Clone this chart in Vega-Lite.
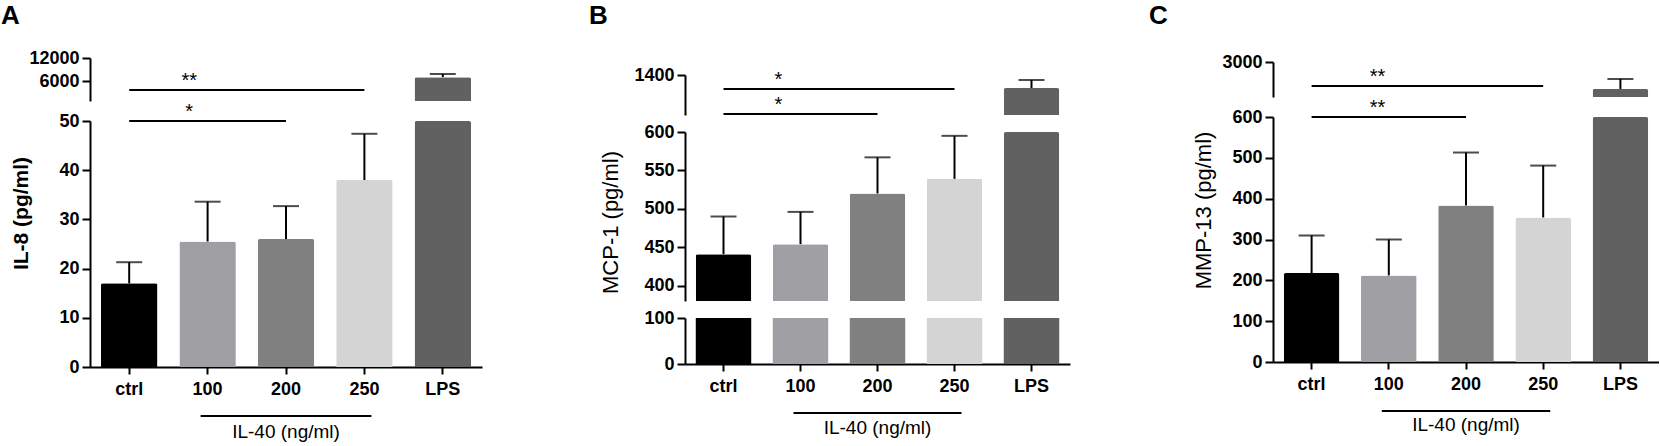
{
  "$schema": "https://vega.github.io/schema/vega-lite/v6.json",
  "padding": {"left": 1, "top": 3, "right": 0, "bottom": 0},
  "config": {
    "font": "Liberation Sans",
    "view": {"stroke": null},
    "title": {"anchor": "start", "frame": "group", "fontSize": 26, "fontWeight": "bold", "color": "#000", "font": "Liberation Sans", "offset": 8},
    "axis": {
      "grid": false,
      "domainColor": "#000",
      "domainWidth": 2,
      "tickColor": "#000",
      "tickWidth": 2,
      "tickSize": 8,
      "labelColor": "#000",
      "labelFont": "Liberation Sans",
      "labelFontSize": 18,
      "labelFontWeight": "bold",
      "labelPadding": 3,
      "labelOverlap": false,
      "labelFlush": false,
      "titleColor": "#000",
      "titleFont": "Liberation Sans"
    }
  },
  "datasets": {
    "il8": [
      {"group": "ctrl", "mean": 17.0, "upper": 21.3},
      {"group": "100", "mean": 25.5, "upper": 33.6},
      {"group": "200", "mean": 26.0, "upper": 32.7},
      {"group": "250", "mean": 38.0, "upper": 47.4},
      {"group": "LPS", "mean": 7100, "upper": 7900}
    ],
    "mcp1": [
      {"group": "ctrl", "mean": 441, "upper": 490},
      {"group": "100", "mean": 454, "upper": 496},
      {"group": "200", "mean": 520, "upper": 567},
      {"group": "250", "mean": 539, "upper": 595},
      {"group": "LPS", "mean": 1205, "upper": 1325}
    ],
    "mmp13": [
      {"group": "ctrl", "mean": 218, "upper": 310},
      {"group": "100", "mean": 212, "upper": 300},
      {"group": "200", "mean": 383, "upper": 513},
      {"group": "250", "mean": 354, "upper": 481},
      {"group": "LPS", "mean": 1460, "upper": 2030}
    ],
    "sigA_top": [{"from": "ctrl", "to": "250", "y": 3800, "label": "**"}],
    "sigA_bot": [{"from": "ctrl", "to": "200", "y": 50, "label": "*"}],
    "sigB_top": [
      {"from": "ctrl", "to": "250", "y": 1190, "label": "*"},
      {"from": "ctrl", "to": "200", "y": 815, "label": "*"}
    ],
    "sigC_top": [{"from": "ctrl", "to": "250", "y": 1630, "label": "**"}],
    "sigC_bot": [{"from": "ctrl", "to": "200", "y": 600, "label": "**"}],
    "bracket": [{"from": "100", "to": "250", "mid": "200", "label": "IL-40 (ng/ml)"}]
  },
  "bounds": "flush",
  "spacing": 595,
  "hconcat": [
    {
      "bounds": "flush",
      "spacing": 20,
      "vconcat": [
        {
          "width": 392, "height": 1,
          "title": {"text": "A", "dx": -89},
          "data": {"values": []},
          "mark": "point"
        },
        {
          "width": 392, "height": 43,
          "layer": [
            {
              "data": {"name": "il8"},
              "mark": {"type": "bar", "cornerRadiusTopLeft": 2, "cornerRadiusTopRight": 2},
              "encoding": {
                "x": {"field": "group", "type": "nominal", "title": null, "axis": null, "scale": {"domain": ["ctrl", "100", "200", "250", "LPS"], "paddingInner": 0.28, "paddingOuter": 0.14}},
                "y": {"field": "mean", "type": "quantitative", "title": null, "scale": {"domain": [1000, 12000], "clamp": true}, "axis": {"values": [6000, 12000], "format": "d", "labelOverlap": false}},
                "color": {"field": "group", "type": "nominal", "legend": null, "scale": {"domain": ["ctrl", "100", "200", "250", "LPS"], "range": ["#000000", "#9f9fa4", "#808080", "#d4d4d4", "#616161"]}}
              }
            },
            {
              "data": {"name": "il8"},
              "transform": [{"filter": {"field": "upper", "range": [1000, 12000]}}],
              "mark": {"type": "rule", "strokeWidth": 2, "color": "#000"},
              "encoding": {
                "x": {"field": "group", "type": "nominal", "title": null, "axis": null},
                "y": {"field": "mean", "type": "quantitative", "title": null},
                "y2": {"field": "upper"}
              }
            },
            {
              "data": {"name": "il8"},
              "transform": [{"filter": {"field": "upper", "range": [1000, 12000]}}],
              "mark": {"type": "tick", "thickness": 2, "size": 26, "color": "#000"},
              "encoding": {
                "x": {"field": "group", "type": "nominal", "title": null, "axis": null},
                "y": {"field": "upper", "type": "quantitative", "title": null}
              }
            },
            {
              "data": {"name": "sigA_top"},
              "mark": {"type": "rule", "strokeWidth": 2, "color": "#000"},
              "encoding": {
                "x": {"field": "from", "type": "nominal", "title": null, "axis": null},
                "x2": {"field": "to"},
                "y": {"field": "y", "type": "quantitative", "title": null}
              }
            },
            {
              "data": {"name": "sigA_top"},
              "mark": {"type": "text", "fontSize": 20, "dx": 60, "dy": -3, "baseline": "alphabetic", "align": "center", "color": "#000"},
              "encoding": {
                "x": {"field": "from", "type": "nominal", "title": null, "axis": null},
                "y": {"field": "y", "type": "quantitative", "title": null},
                "text": {"field": "label"}
              }
            }
          ]
        },
        {
          "width": 392, "height": 246,
          "layer": [
            {
              "data": {"name": "il8"},
              "mark": {"type": "bar", "cornerRadiusTopLeft": 2, "cornerRadiusTopRight": 2},
              "encoding": {
                "x": {"field": "group", "type": "nominal", "title": null, "scale": {"domain": ["ctrl", "100", "200", "250", "LPS"], "paddingInner": 0.28, "paddingOuter": 0.14}, "axis": {"labelAngle": 0, "bandPosition": 0.5, "tickSize": 7, "labelPadding": 6}},
                "y": {"field": "mean", "type": "quantitative", "title": "IL-8 (pg/ml)", "scale": {"domain": [0, 50], "clamp": true}, "axis": {"values": [0, 10, 20, 30, 40, 50], "labelOverlap": false, "titleX": -63, "titleY": 92, "titleAngle": -90, "titleAlign": "center", "titleBaseline": "alphabetic", "titleFontSize": 21, "titleFontWeight": "bold"}},
                "color": {"field": "group", "type": "nominal", "legend": null, "scale": {"domain": ["ctrl", "100", "200", "250", "LPS"], "range": ["#000000", "#9f9fa4", "#808080", "#d4d4d4", "#616161"]}}
              }
            },
            {
              "data": {"name": "il8"},
              "transform": [{"filter": {"field": "upper", "range": [0, 50]}}],
              "mark": {"type": "rule", "strokeWidth": 2, "color": "#000"},
              "encoding": {
                "x": {"field": "group", "type": "nominal", "title": null},
                "y": {"field": "mean", "type": "quantitative", "title": "IL-8 (pg/ml)"},
                "y2": {"field": "upper"}
              }
            },
            {
              "data": {"name": "il8"},
              "transform": [{"filter": {"field": "upper", "range": [0, 50]}}],
              "mark": {"type": "tick", "thickness": 2, "size": 26, "color": "#000"},
              "encoding": {
                "x": {"field": "group", "type": "nominal", "title": null},
                "y": {"field": "upper", "type": "quantitative", "title": "IL-8 (pg/ml)"}
              }
            },
            {
              "data": {"name": "sigA_bot"},
              "mark": {"type": "rule", "strokeWidth": 2, "color": "#000"},
              "encoding": {
                "x": {"field": "from", "type": "nominal", "title": null},
                "x2": {"field": "to"},
                "y": {"field": "y", "type": "quantitative", "title": "IL-8 (pg/ml)"}
              }
            },
            {
              "data": {"name": "sigA_bot"},
              "mark": {"type": "text", "fontSize": 20, "dx": 60, "dy": -3, "baseline": "alphabetic", "align": "center", "color": "#000"},
              "encoding": {
                "x": {"field": "from", "type": "nominal", "title": null},
                "y": {"field": "y", "type": "quantitative", "title": "IL-8 (pg/ml)"},
                "text": {"field": "label"}
              }
            },
            {
              "data": {"name": "bracket"},
              "mark": {"type": "rule", "strokeWidth": 2, "color": "#000", "yOffset": 49, "xOffset": -7, "x2Offset": 7},
              "encoding": {
                "x": {"field": "from", "type": "nominal", "title": null},
                "x2": {"field": "to"},
                "y": {"datum": 0, "type": "quantitative"}
              }
            },
            {
              "data": {"name": "bracket"},
              "mark": {"type": "text", "fontSize": 19, "yOffset": 71, "baseline": "alphabetic", "align": "center", "color": "#000"},
              "encoding": {
                "x": {"field": "mid", "type": "nominal", "title": null},
                "y": {"datum": 0, "type": "quantitative"},
                "text": {"field": "label"}
              }
            }
          ]
        }
      ]
    },
    {
      "bounds": "flush",
      "spacing": 588,
      "hconcat": [
        {
          "bounds": "flush",
          "spacing": 17,
          "vconcat": [
            {
              "width": 385, "height": 21,
              "title": {"text": "B", "dx": -96},
              "data": {"values": []},
              "mark": "point"
            },
            {
              "width": 385, "height": 40,
              "layer": [
                {
                  "data": {"name": "mcp1"},
                  "mark": {"type": "bar", "cornerRadiusTopLeft": 2, "cornerRadiusTopRight": 2},
                  "encoding": {
                    "x": {"field": "group", "type": "nominal", "title": null, "axis": null, "scale": {"domain": ["ctrl", "100", "200", "250", "LPS"], "paddingInner": 0.28, "paddingOuter": 0.14}},
                    "y": {"field": "mean", "type": "quantitative", "title": null, "scale": {"domain": [800, 1400], "clamp": true}, "axis": {"values": [1400], "format": "d", "labelOverlap": false}},
                    "color": {"field": "group", "type": "nominal", "legend": null, "scale": {"domain": ["ctrl", "100", "200", "250", "LPS"], "range": ["#000000", "#9f9fa4", "#808080", "#d4d4d4", "#616161"]}}
                  }
                },
                {
                  "data": {"name": "mcp1"},
                  "transform": [{"filter": {"field": "upper", "range": [800, 1400]}}],
                  "mark": {"type": "rule", "strokeWidth": 2, "color": "#000"},
                  "encoding": {
                    "x": {"field": "group", "type": "nominal", "title": null, "axis": null},
                    "y": {"field": "mean", "type": "quantitative", "title": null},
                    "y2": {"field": "upper"}
                  }
                },
                {
                  "data": {"name": "mcp1"},
                  "transform": [{"filter": {"field": "upper", "range": [800, 1400]}}],
                  "mark": {"type": "tick", "thickness": 2, "size": 26, "color": "#000"},
                  "encoding": {
                    "x": {"field": "group", "type": "nominal", "title": null, "axis": null},
                    "y": {"field": "upper", "type": "quantitative", "title": null}
                  }
                },
                {
                  "data": {"name": "sigB_top"},
                  "mark": {"type": "rule", "strokeWidth": 2, "color": "#000"},
                  "encoding": {
                    "x": {"field": "from", "type": "nominal", "title": null, "axis": null},
                    "x2": {"field": "to"},
                    "y": {"field": "y", "type": "quantitative", "title": null}
                  }
                },
                {
                  "data": {"name": "sigB_top"},
                  "mark": {"type": "text", "fontSize": 20, "dx": 55, "dy": -3, "baseline": "alphabetic", "align": "center", "color": "#000"},
                  "encoding": {
                    "x": {"field": "from", "type": "nominal", "title": null, "axis": null},
                    "y": {"field": "y", "type": "quantitative", "title": null},
                    "text": {"field": "label"}
                  }
                }
              ]
            },
            {
              "width": 385, "height": 169,
              "layer": [
                {
                  "data": {"name": "mcp1"},
                  "mark": {"type": "bar", "cornerRadiusTopLeft": 2, "cornerRadiusTopRight": 2},
                  "encoding": {
                    "x": {"field": "group", "type": "nominal", "title": null, "axis": null, "scale": {"domain": ["ctrl", "100", "200", "250", "LPS"], "paddingInner": 0.28, "paddingOuter": 0.14}},
                    "y": {"field": "mean", "type": "quantitative", "title": "MCP-1 (pg/ml)", "scale": {"domain": [380, 600], "clamp": true}, "axis": {"values": [400, 450, 500, 550, 600], "labelOverlap": false, "titleX": -68, "titleY": 90, "titleAngle": -90, "titleAlign": "center", "titleBaseline": "alphabetic", "titleFontSize": 22, "titleFontWeight": "normal"}},
                    "color": {"field": "group", "type": "nominal", "legend": null, "scale": {"domain": ["ctrl", "100", "200", "250", "LPS"], "range": ["#000000", "#9f9fa4", "#808080", "#d4d4d4", "#616161"]}}
                  }
                },
                {
                  "data": {"name": "mcp1"},
                  "transform": [{"filter": {"field": "upper", "range": [380, 600]}}],
                  "mark": {"type": "rule", "strokeWidth": 2, "color": "#000"},
                  "encoding": {
                    "x": {"field": "group", "type": "nominal", "title": null, "axis": null},
                    "y": {"field": "mean", "type": "quantitative", "title": "MCP-1 (pg/ml)"},
                    "y2": {"field": "upper"}
                  }
                },
                {
                  "data": {"name": "mcp1"},
                  "transform": [{"filter": {"field": "upper", "range": [380, 600]}}],
                  "mark": {"type": "tick", "thickness": 2, "size": 26, "color": "#000"},
                  "encoding": {
                    "x": {"field": "group", "type": "nominal", "title": null, "axis": null},
                    "y": {"field": "upper", "type": "quantitative", "title": "MCP-1 (pg/ml)"}
                  }
                }
              ]
            },
            {
              "width": 385, "height": 46,
              "layer": [
                {
                  "data": {"name": "mcp1"},
                  "mark": {"type": "bar"},
                  "encoding": {
                    "x": {"field": "group", "type": "nominal", "title": null, "scale": {"domain": ["ctrl", "100", "200", "250", "LPS"], "paddingInner": 0.28, "paddingOuter": 0.14}, "axis": {"labelAngle": 0, "bandPosition": 0.5, "tickSize": 7, "labelPadding": 6}},
                    "y": {"field": "mean", "type": "quantitative", "title": null, "scale": {"domain": [0, 100], "clamp": true}, "axis": {"values": [0, 100], "labelOverlap": false}},
                    "color": {"field": "group", "type": "nominal", "legend": null, "scale": {"domain": ["ctrl", "100", "200", "250", "LPS"], "range": ["#000000", "#9f9fa4", "#808080", "#d4d4d4", "#616161"]}}
                  }
                },
                {
                  "data": {"name": "bracket"},
                  "mark": {"type": "rule", "strokeWidth": 2, "color": "#000", "yOffset": 49, "xOffset": -7, "x2Offset": 7},
                  "encoding": {
                    "x": {"field": "from", "type": "nominal", "title": null},
                    "x2": {"field": "to"},
                    "y": {"datum": 0, "type": "quantitative"}
                  }
                },
                {
                  "data": {"name": "bracket"},
                  "mark": {"type": "text", "fontSize": 19, "yOffset": 70, "baseline": "alphabetic", "align": "center", "color": "#000"},
                  "encoding": {
                    "x": {"field": "mid", "type": "nominal", "title": null},
                    "y": {"datum": 0, "type": "quantitative"},
                    "text": {"field": "label"}
                  }
                }
              ]
            }
          ]
        },
        {
          "bounds": "flush",
          "spacing": 20,
          "vconcat": [
            {
              "width": 386, "height": 5,
              "title": {"text": "C", "dx": -124},
              "data": {"values": []},
              "mark": "point"
            },
            {
              "width": 386, "height": 35,
              "layer": [
                {
                  "data": {"name": "mmp13"},
                  "mark": {"type": "bar", "cornerRadiusTopLeft": 2, "cornerRadiusTopRight": 2},
                  "encoding": {
                    "x": {"field": "group", "type": "nominal", "title": null, "axis": null, "scale": {"domain": ["ctrl", "100", "200", "250", "LPS"], "paddingInner": 0.28, "paddingOuter": 0.14}},
                    "y": {"field": "mean", "type": "quantitative", "title": null, "scale": {"domain": [1000, 3000], "clamp": true}, "axis": {"values": [3000], "format": "d", "labelOverlap": false}},
                    "color": {"field": "group", "type": "nominal", "legend": null, "scale": {"domain": ["ctrl", "100", "200", "250", "LPS"], "range": ["#000000", "#9f9fa4", "#808080", "#d4d4d4", "#616161"]}}
                  }
                },
                {
                  "data": {"name": "mmp13"},
                  "transform": [{"filter": {"field": "upper", "range": [1000, 3000]}}],
                  "mark": {"type": "rule", "strokeWidth": 2, "color": "#000"},
                  "encoding": {
                    "x": {"field": "group", "type": "nominal", "title": null, "axis": null},
                    "y": {"field": "mean", "type": "quantitative", "title": null},
                    "y2": {"field": "upper"}
                  }
                },
                {
                  "data": {"name": "mmp13"},
                  "transform": [{"filter": {"field": "upper", "range": [1000, 3000]}}],
                  "mark": {"type": "tick", "thickness": 2, "size": 26, "color": "#000"},
                  "encoding": {
                    "x": {"field": "group", "type": "nominal", "title": null, "axis": null},
                    "y": {"field": "upper", "type": "quantitative", "title": null}
                  }
                },
                {
                  "data": {"name": "sigC_top"},
                  "mark": {"type": "rule", "strokeWidth": 2, "color": "#000"},
                  "encoding": {
                    "x": {"field": "from", "type": "nominal", "title": null, "axis": null},
                    "x2": {"field": "to"},
                    "y": {"field": "y", "type": "quantitative", "title": null}
                  }
                },
                {
                  "data": {"name": "sigC_top"},
                  "mark": {"type": "text", "fontSize": 20, "dx": 66, "dy": -3, "baseline": "alphabetic", "align": "center", "color": "#000"},
                  "encoding": {
                    "x": {"field": "from", "type": "nominal", "title": null, "axis": null},
                    "y": {"field": "y", "type": "quantitative", "title": null},
                    "text": {"field": "label"}
                  }
                }
              ]
            },
            {
              "width": 386, "height": 245,
              "layer": [
                {
                  "data": {"name": "mmp13"},
                  "mark": {"type": "bar", "cornerRadiusTopLeft": 2, "cornerRadiusTopRight": 2},
                  "encoding": {
                    "x": {"field": "group", "type": "nominal", "title": null, "scale": {"domain": ["ctrl", "100", "200", "250", "LPS"], "paddingInner": 0.28, "paddingOuter": 0.14}, "axis": {"labelAngle": 0, "bandPosition": 0.5, "tickSize": 7, "labelPadding": 6}},
                    "y": {"field": "mean", "type": "quantitative", "title": "MMP-13 (pg/ml)", "scale": {"domain": [0, 600], "clamp": true}, "axis": {"values": [0, 100, 200, 300, 400, 500, 600], "labelOverlap": false, "titleX": -63, "titleY": 93, "titleAngle": -90, "titleAlign": "center", "titleBaseline": "alphabetic", "titleFontSize": 22, "titleFontWeight": "normal"}},
                    "color": {"field": "group", "type": "nominal", "legend": null, "scale": {"domain": ["ctrl", "100", "200", "250", "LPS"], "range": ["#000000", "#9f9fa4", "#808080", "#d4d4d4", "#616161"]}}
                  }
                },
                {
                  "data": {"name": "mmp13"},
                  "transform": [{"filter": {"field": "upper", "range": [0, 600]}}],
                  "mark": {"type": "rule", "strokeWidth": 2, "color": "#000"},
                  "encoding": {
                    "x": {"field": "group", "type": "nominal", "title": null},
                    "y": {"field": "mean", "type": "quantitative", "title": "MMP-13 (pg/ml)"},
                    "y2": {"field": "upper"}
                  }
                },
                {
                  "data": {"name": "mmp13"},
                  "transform": [{"filter": {"field": "upper", "range": [0, 600]}}],
                  "mark": {"type": "tick", "thickness": 2, "size": 26, "color": "#000"},
                  "encoding": {
                    "x": {"field": "group", "type": "nominal", "title": null},
                    "y": {"field": "upper", "type": "quantitative", "title": "MMP-13 (pg/ml)"}
                  }
                },
                {
                  "data": {"name": "sigC_bot"},
                  "mark": {"type": "rule", "strokeWidth": 2, "color": "#000"},
                  "encoding": {
                    "x": {"field": "from", "type": "nominal", "title": null},
                    "x2": {"field": "to"},
                    "y": {"field": "y", "type": "quantitative", "title": "MMP-13 (pg/ml)"}
                  }
                },
                {
                  "data": {"name": "sigC_bot"},
                  "mark": {"type": "text", "fontSize": 20, "dx": 66, "dy": -3, "baseline": "alphabetic", "align": "center", "color": "#000"},
                  "encoding": {
                    "x": {"field": "from", "type": "nominal", "title": null},
                    "y": {"field": "y", "type": "quantitative", "title": "MMP-13 (pg/ml)"},
                    "text": {"field": "label"}
                  }
                },
                {
                  "data": {"name": "bracket"},
                  "mark": {"type": "rule", "strokeWidth": 2, "color": "#000", "yOffset": 49, "xOffset": -7, "x2Offset": 7},
                  "encoding": {
                    "x": {"field": "from", "type": "nominal", "title": null},
                    "x2": {"field": "to"},
                    "y": {"datum": 0, "type": "quantitative"}
                  }
                },
                {
                  "data": {"name": "bracket"},
                  "mark": {"type": "text", "fontSize": 19, "yOffset": 69, "baseline": "alphabetic", "align": "center", "color": "#000"},
                  "encoding": {
                    "x": {"field": "mid", "type": "nominal", "title": null},
                    "y": {"datum": 0, "type": "quantitative"},
                    "text": {"field": "label"}
                  }
                }
              ]
            }
          ]
        }
      ]
    }
  ]
}
